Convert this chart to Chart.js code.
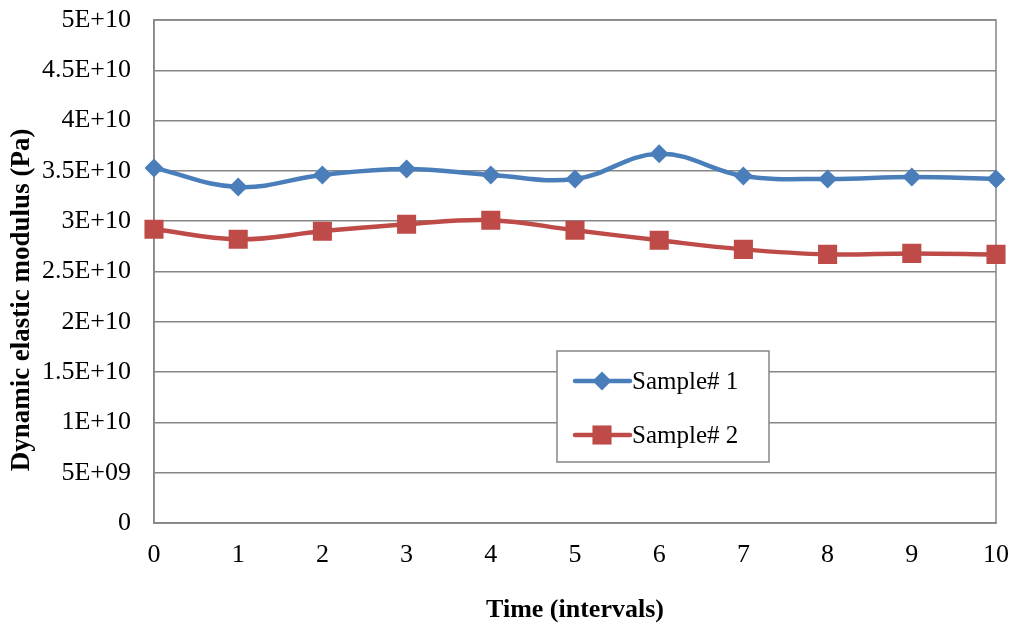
<!DOCTYPE html>
<html>
<head>
<meta charset="utf-8">
<script src="https://cdn.jsdelivr.net/npm/chart.js@4.4.1/dist/chart.umd.min.js"></script>
<style>
    html, body { margin: 0; padding: 0; background: #ffffff; }
    #page { width: 1016px; height: 627px; position: relative; overflow: hidden; }
    #wrap { position: absolute; left: 0; top: -20px; width: 1036px; height: 647px; }
</style>
</head>
<body>
<div id="page"><div id="wrap"><canvas id="modulusChart"></canvas></div></div>
<script>
// Data
const timeLabels = ['0', '1', '2', '3', '4', '5', '6', '7', '8', '9', '10'];
const sample1 = [3.53e10, 3.34e10, 3.46e10, 3.52e10, 3.46e10, 3.42e10, 3.67e10, 3.45e10, 3.42e10, 3.44e10, 3.42e10];
const sample2 = [2.92e10, 2.82e10, 2.90e10, 2.97e10, 3.01e10, 2.91e10, 2.81e10, 2.72e10, 2.67e10, 2.68e10, 2.67e10];
const seriesNames = ['Sample# 1', 'Sample# 2'];
const yMin = 0;
const yMax = 5e10;
const yStep = 5e9;

const FONT = "'Liberation Serif', 'Times New Roman', serif";
const GRID = '#868686';
const SHIFT = 20; // canvas is moved up by this much

// Excel "General" number format: 5E+10, 4.5E+10, 5E+09, 0
function excelGeneral(v) {
    if (v === 0) return '0';
    const s = Number(v.toPrecision(6)).toExponential().toUpperCase();
    return s.replace(/E([+-])(\d+)$/, (m, sign, exp) => 'E' + sign + exp.padStart(2, '0'));
}

// Grey frame around the plot area
const plotFrame = {
    id: 'plotFrame',
    beforeDatasetsDraw(chart) {
        const { ctx, chartArea: a } = chart;
        ctx.save();
        ctx.strokeStyle = GRID;
        ctx.lineWidth = 1.5;
        ctx.strokeRect(a.left, a.top, a.right - a.left, a.bottom - a.top);
        ctx.restore();
    }
};

// Y axis title, placed a little below centre like in the source
const yTitle = {
    id: 'yTitle',
    afterDraw(chart) {
        const ctx = chart.ctx;
        ctx.save();
        ctx.translate(22, 300 + SHIFT);
        ctx.rotate(-Math.PI / 2);
        ctx.fillStyle = '#000000';
        ctx.font = 'bold 27px ' + FONT;
        ctx.textAlign = 'center';
        ctx.textBaseline = 'middle';
        ctx.fillText('Dynamic elastic modulus (Pa)', 0, 0);
        ctx.restore();
    }
};

// Legend box floating inside the plot
const boxLegend = {
    id: 'boxLegend',
    afterDraw(chart) {
        const ctx = chart.ctx;
        const box = { x: 557, y: 351 + SHIFT, w: 212, h: 111 };
        ctx.save();
        ctx.fillStyle = '#ffffff';
        ctx.fillRect(box.x, box.y, box.w, box.h);
        ctx.strokeStyle = GRID;
        ctx.lineWidth = 1.5;
        ctx.strokeRect(box.x, box.y, box.w, box.h);

        chart.data.datasets.forEach((ds, i) => {
            const y = box.y + 30 + i * 54;
            ctx.strokeStyle = ds.borderColor;
            ctx.lineWidth = ds.borderWidth;
            ctx.lineCap = 'round';
            ctx.beginPath();
            ctx.moveTo(box.x + 18, y);
            ctx.lineTo(box.x + 73, y);
            ctx.stroke();
            ctx.fillStyle = ds.pointBackgroundColor;
            Chart.helpers.drawPoint(ctx, {
                pointStyle: ds.pointStyle,
                radius: ds.pointRadius,
                rotation: 0,
                borderWidth: 0
            }, box.x + 45, y);
            ctx.fillStyle = '#000000';
            ctx.font = '25px ' + FONT;
            ctx.textBaseline = 'middle';
            ctx.textAlign = 'left';
            ctx.fillText(ds.label, box.x + 75, y + 1);
        });
        ctx.restore();
    }
};

const ctx = document.getElementById('modulusChart');
new Chart(ctx, {
    type: 'line',
    data: {
        labels: timeLabels,
        datasets: [
            {
                label: seriesNames[0],
                data: sample1,
                borderColor: '#4A7EBB',
                backgroundColor: '#4A7EBB',
                pointBackgroundColor: '#4A7EBB',
                pointBorderWidth: 0,
                borderWidth: 4.5,
                tension: 0.4,
                pointStyle: 'rectRot',
                pointRadius: 9.5
            },
            {
                label: seriesNames[1],
                data: sample2,
                borderColor: '#BE4B48',
                backgroundColor: '#BE4B48',
                pointBackgroundColor: '#BE4B48',
                pointBorderWidth: 0,
                borderWidth: 4.5,
                tension: 0.4,
                pointStyle: 'rect',
                pointRadius: 13.5
            }
        ]
    },
    options: {
        responsive: true,
        maintainAspectRatio: false,
        animation: false,
        layout: {
            padding: { top: 40, right: 40, left: 0, bottom: 0 }
        },
        plugins: {
            legend: { display: false },
            tooltip: { enabled: false }
        },
        scales: {
            x: {
                type: 'category',
                offset: false,
                grid: { display: false, drawTicks: false },
                border: { display: true, color: GRID, width: 1.5 },
                ticks: {
                    color: '#000000',
                    padding: 17,
                    maxRotation: 0,
                    autoSkip: false,
                    font: { family: FONT, size: 26 }
                },
                title: {
                    display: true,
                    text: 'Time (intervals)',
                    color: '#000000',
                    padding: { top: 0, bottom: 1 },
                    font: { family: FONT, size: 26, weight: 'bold' }
                },
                afterFit(scale) { scale.height = 104; }
            },
            y: {
                min: yMin,
                max: yMax,
                grid: { color: GRID, lineWidth: 1.5, drawTicks: false },
                border: { display: true, color: GRID, width: 1.5 },
                ticks: {
                    stepSize: yStep,
                    color: '#000000',
                    padding: 23,
                    font: { family: FONT, size: 26 },
                    callback: function(value) {
                        return excelGeneral(value);
                    }
                },
                afterFit(scale) { scale.width = 154; }
            }
        }
    },
    plugins: [plotFrame, yTitle, boxLegend]
});
</script>
</body>
</html>
